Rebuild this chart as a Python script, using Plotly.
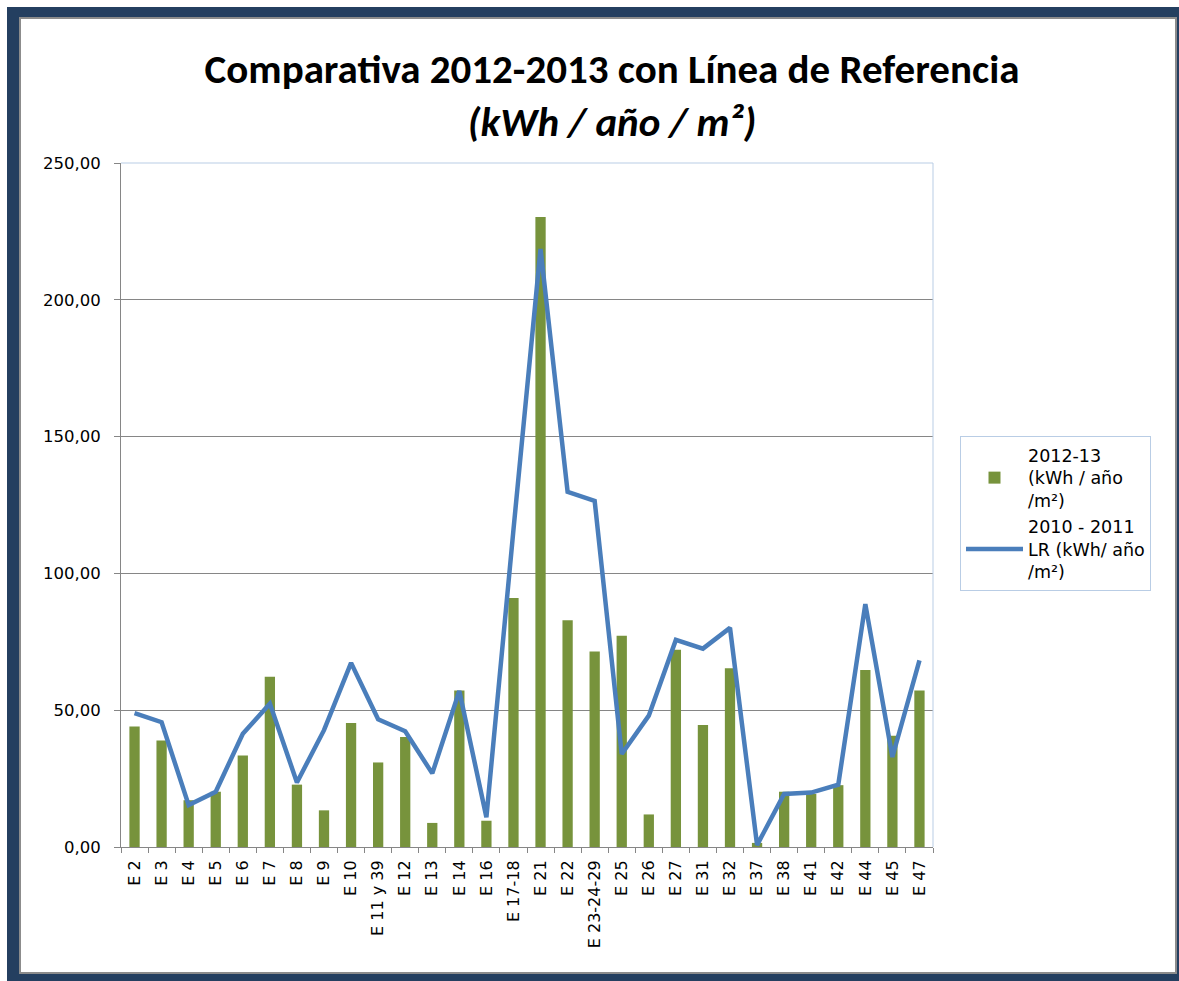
import plotly.graph_objects as go

categories = ["E 2", "E 3", "E 4", "E 5", "E 6", "E 7", "E 8", "E 9", "E 10", "E 11 y 39",
              "E 12", "E 13", "E 14", "E 16", "E 17-18", "E 21", "E 22", "E 23-24-29", "E 25", "E 26",
              "E 27", "E 31", "E 32", "E 37", "E 38", "E 41", "E 42", "E 44", "E 45", "E 47"]
values_2012_13 = [44.0, 38.9, 17.1, 20.2, 33.4, 62.2, 22.8, 13.4, 45.3, 30.9,
                  40.2, 8.8, 57.2, 9.6, 91.0, 230.3, 82.9, 71.5, 77.2, 11.9,
                  72.1, 44.6, 65.3, 1.5, 20.2, 19.4, 22.6, 64.7, 40.7, 57.2]
values_lr_2010_11 = [48.9, 45.6, 15.3, 20.2, 41.4, 52.4, 23.6, 42.7, 67.3, 46.7,
                     42.3, 26.9, 57.0, 10.9, 116.0, 218.6, 129.8, 126.5, 34.0, 48.0,
                     75.7, 72.5, 80.1, 0.7, 19.4, 19.9, 22.8, 88.8, 32.9, 68.2]
y_tickvals = [0, 50, 100, 150, 200, 250]
y_ticktext = ["0,00", "50,00", "100,00", "150,00", "200,00", "250,00"]

W, H = 1179, 981
L, R, T, B = 121, 933, 163, 847


def px(x):
    return (x - L) / (R - L)


def py(y):
    return (B - y) / (B - T)


fig = go.Figure()
fig.add_trace(go.Bar(
    x=categories, y=values_2012_13,
    name="2012-13<br>(kWh / año<br>/m²)",
    marker=dict(color="#77933C", line=dict(width=0)),
))
fig.add_trace(go.Scatter(
    x=categories, y=values_lr_2010_11, mode="lines",
    name="2010 - 2011<br>LR (kWh/ año<br>/m²)",
    line=dict(color="#4A7EBB", width=4.5),
))

shapes = [
    dict(type="rect", xref="paper", yref="paper", x0=px(7), x1=px(1179), y0=py(981), y1=py(7),
         fillcolor="#243F60", line=dict(width=0), layer="below"),
    dict(type="rect", xref="paper", yref="paper", x0=px(20), x1=px(1176), y0=py(973), y1=py(18),
         fillcolor="#FFFFFF", line=dict(color="#8C8C8C", width=2), layer="below"),
    dict(type="line", xref="paper", yref="paper", x0=0, x1=1, y0=1, y1=1,
         line=dict(color="#B9CDE5", width=1)),
    dict(type="line", xref="paper", yref="paper", x0=1, x1=1, y0=0, y1=1,
         line=dict(color="#B9CDE5", width=1)),
]

fig.update_layout(
    width=W, height=H,
    margin=dict(l=L, r=W - R, t=T, b=H - B),
    paper_bgcolor="#FFFFFF", plot_bgcolor="rgba(0,0,0,0)",
    shapes=shapes,
    bargap=0.62,
    title=dict(
        text="<b>Comparativa 2012-2013 con Línea de Referencia<br><i>(kWh / año / m²)</i></b>",
        x=612 / W, xref="container", xanchor="center",
        y=1 - 83 / H, yref="container", yanchor="middle",
        font=dict(family="Carlito, Open Sans, sans-serif", size=41, color="#000000"),
    ),
    font=dict(family="DejaVu Sans, Verdana, sans-serif", size=16, color="#000000"),
    xaxis=dict(
        type="category", tickangle=-90, tickson="boundaries",
        ticks="outside", ticklen=5, tickcolor="#868686",
        showline=True, linecolor="#868686", linewidth=1,
        showgrid=False, tickfont=dict(size=16), ticklabelstandoff=6,
    ),
    yaxis=dict(
        range=[0, 250], tickvals=y_tickvals, ticktext=y_ticktext,
        ticks="outside", ticklen=6, tickcolor="#868686",
        showline=True, linecolor="#868686", linewidth=1,
        showgrid=True, gridcolor="#868686", gridwidth=1,
        zeroline=False, tickfont=dict(size=16.5), ticklabelstandoff=10,
    ),
    legend=dict(
        x=px(960), y=py(436), xanchor="left", yanchor="top",
        bordercolor="#B9CDE5", borderwidth=1, bgcolor="#FFFFFF",
        font=dict(size=17.5), tracegroupgap=4, itemwidth=57,
    ),
    showlegend=True,
)

fig.write_html("out.html", config={"displayModeBar": False},
               post_script="document.body.style.margin='0';document.body.style.overflow='hidden';")
